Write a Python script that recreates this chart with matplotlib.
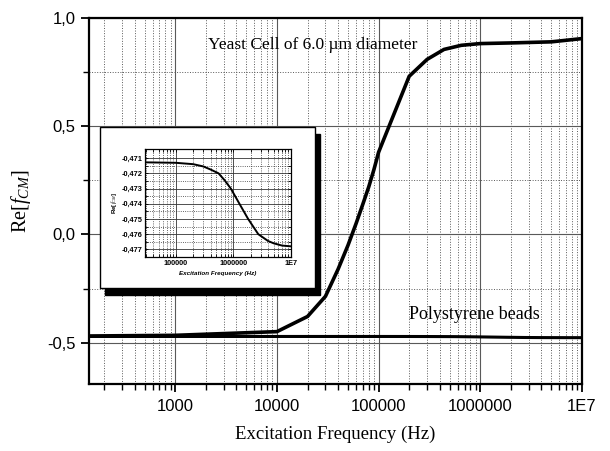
import numpy as np
import matplotlib
matplotlib.use('Agg')
import matplotlib.pyplot as plt
from matplotlib.patches import Rectangle
from matplotlib.ticker import FixedLocator, LogLocator, NullFormatter, FixedFormatter

plt.rcParams['mathtext.fontset'] = 'custom'
plt.rcParams['mathtext.rm'] = 'Liberation Serif'
plt.rcParams['mathtext.it'] = 'Liberation Serif:italic'

# Yeast cell (6.0 um) Re[f_CM] vs frequency
yeast_freq = [150, 1000, 10000, 20000, 30000, 40000, 50000, 60000, 70000, 80000,
              90000, 100000, 200000, 300000, 440000, 650000, 1000000, 2000000,
              5000000, 10000000]
yeast_re = [-0.469, -0.466, -0.449, -0.379, -0.286, -0.16, -0.05, 0.05, 0.14, 0.22,
            0.30, 0.38, 0.731, 0.809, 0.855, 0.874, 0.882, 0.885, 0.89, 0.905]

# Polystyrene beads
beads_freq = [150, 1000, 10000, 30000, 100000, 200000, 300000, 400000, 550000,
              700000, 900000, 1270000, 1800000, 2700000, 4000000, 5000000,
              7000000, 10000000]
beads_re = [-0.47128, -0.47128, -0.47128, -0.47128, -0.47131, -0.47140, -0.47155,
            -0.47175, -0.4720, -0.47245, -0.4730, -0.4740, -0.4750, -0.4760,
            -0.47645, -0.4766, -0.47675, -0.4768]

x_ticks = [1000, 10000, 100000, 1000000, 10000000]
x_ticklabels = ['1000', '10000', '100000', '1000000', '1E7']
y_ticks = [-0.5, 0.0, 0.5, 1.0]
y_ticklabels = ['-0,5', '0,0', '0,5', '1,0']

inset_xticks = [100000, 1000000, 10000000]
inset_xticklabels = ['100000', '1000000', '1E7']
inset_yticks = [-0.477, -0.476, -0.475, -0.474, -0.473, -0.472, -0.471]
inset_yticklabels = ['-0,477', '-0,476', '-0,475', '-0,474', '-0,473', '-0,472', '-0,471']

serif = 'Liberation Serif'
sans = 'Liberation Sans'

fig = plt.figure(figsize=(6.10, 4.51), dpi=100)
ax = fig.add_axes([0.146, 0.149, 0.808, 0.811])

ax.plot(beads_freq, beads_re, color='black', lw=2.2, zorder=3)
ax.plot(yeast_freq, yeast_re, color='black', lw=2.6, zorder=4)

ax.set_xscale('log')
ax.set_xlim(142, 1e7)
ax.set_ylim(-0.69, 1.0)

ax.xaxis.set_major_locator(FixedLocator(x_ticks))
ax.xaxis.set_major_formatter(FixedFormatter(x_ticklabels))
ax.xaxis.set_minor_locator(LogLocator(base=10, subs=np.arange(2, 10)))
ax.xaxis.set_minor_formatter(NullFormatter())
ax.yaxis.set_major_locator(FixedLocator(y_ticks))
ax.yaxis.set_major_formatter(FixedFormatter(y_ticklabels))
ax.yaxis.set_minor_locator(FixedLocator([-0.25, 0.25, 0.75]))

ax.grid(which='major', color='0.35', lw=0.8, ls='-')
ax.grid(which='minor', color='0.35', lw=0.7, ls=':')
ax.set_axisbelow(True)

for s in ax.spines.values():
    s.set_linewidth(1.6)
ax.tick_params(which='major', direction='out', length=6, width=1.3, labelsize=12)
ax.tick_params(which='minor', direction='out', length=4, width=1.0)
ax.tick_params(axis='x', which='major', pad=5)
for lab in ax.get_xticklabels() + ax.get_yticklabels():
    lab.set_fontfamily(sans)

ax.set_xlabel('Excitation Frequency (Hz)', fontsize=13.5, family=serif, labelpad=8)
ax.set_ylabel(r'Re[$\mathit{f}_{CM}$]', fontsize=14.5, family=serif, labelpad=10)

ax.text(2100, 0.874, 'Yeast Cell of 6.0 \u00b5m diameter', fontsize=12.5, family=serif,
        va='center', ha='left', zorder=5)
ax.text(880000, -0.37, 'Polystyrene beads', fontsize=13, family=serif,
        va='center', ha='center', zorder=5)

# inset frame with shadow
shadow = Rectangle((0.172, 0.346), 0.352, 0.357, transform=fig.transFigure,
                   facecolor='black', edgecolor='black', zorder=1)
frame = Rectangle((0.164, 0.361), 0.352, 0.357, transform=fig.transFigure,
                  facecolor='white', edgecolor='black', lw=1.0, zorder=2)
fig.patches.extend([shadow, frame])

ins = fig.add_axes([0.2377, 0.4302, 0.2393, 0.2395], zorder=3)
ins.plot(beads_freq, beads_re, color='black', lw=1.4)
ins.set_xscale('log')
ins.set_xlim(29000, 1e7)
ins.set_ylim(-0.4775, -0.4704)
ins.xaxis.set_major_locator(FixedLocator(inset_xticks))
ins.xaxis.set_major_formatter(FixedFormatter(inset_xticklabels))
ins.xaxis.set_minor_locator(LogLocator(base=10, subs=np.arange(2, 10)))
ins.xaxis.set_minor_formatter(NullFormatter())
ins.yaxis.set_major_locator(FixedLocator(inset_yticks))
ins.yaxis.set_major_formatter(FixedFormatter(inset_yticklabels))
ins.yaxis.set_minor_locator(FixedLocator(np.array(inset_yticks[:-1]) + 0.0005))
ins.grid(which='major', color='0.2', lw=0.6, ls='-')
ins.grid(which='minor', color='0.2', lw=0.6, ls=':')
ins.set_axisbelow(True)
for s in ins.spines.values():
    s.set_linewidth(0.9)
ins.tick_params(which='both', direction='in', length=2, width=0.6, labelsize=5.3,
                top=True, right=True, pad=2)
for lab in ins.get_xticklabels() + ins.get_yticklabels():
    lab.set_fontfamily(sans)
    lab.set_fontweight('bold')
ins.set_xlabel('Excitation Frequency (Hz)', fontsize=4.5, family=sans,
               fontweight='bold', style='italic', labelpad=3)
ins.set_ylabel(r'Re[$\mathit{f}_{CM}$]', fontsize=4.5, family=sans,
               fontweight='bold', labelpad=2)

fig.savefig('out.png', dpi=100)
